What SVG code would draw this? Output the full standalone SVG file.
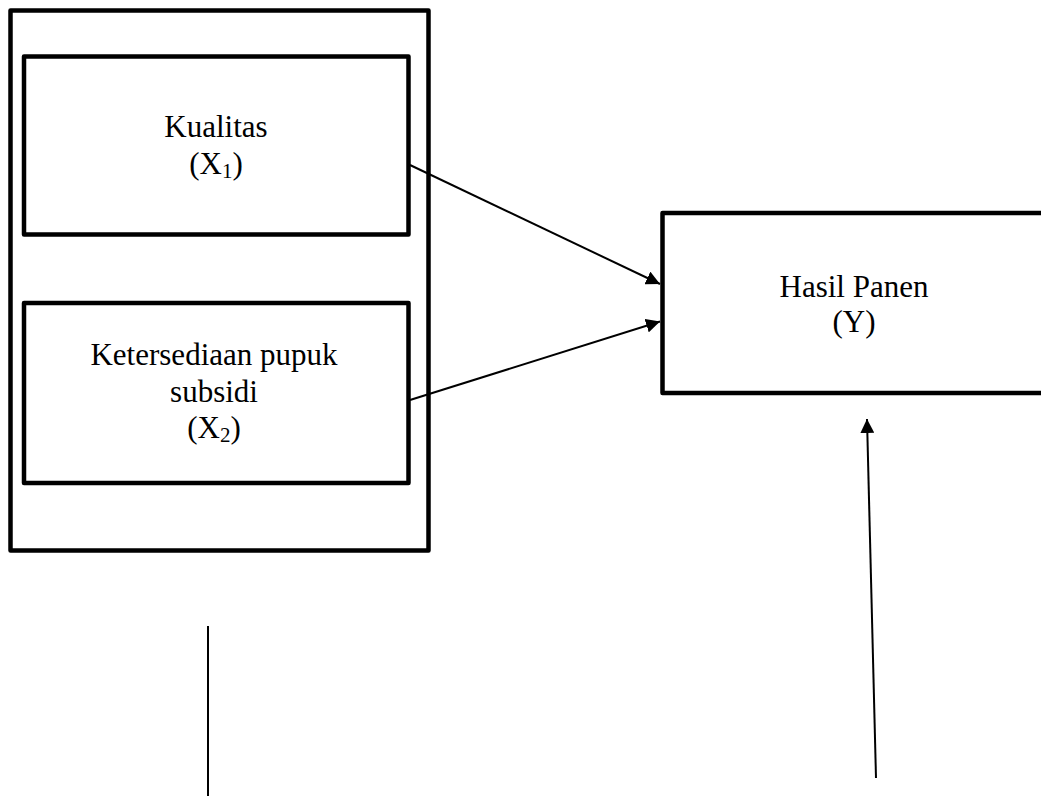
<svg xmlns="http://www.w3.org/2000/svg" width="1041" height="796" viewBox="0 0 1041 796">
<style>
.box{fill:none;stroke:#000;stroke-width:4.5;stroke-linejoin:round}
.lbl{font-family:"Liberation Serif","Times New Roman",serif;font-size:31px;fill:#000;text-anchor:middle}
.sub{font-size:21px}
.con{stroke:#000;stroke-width:2;fill:none}
</style>
<defs>
<marker id="arr" viewBox="0 0 10 10" refX="10" refY="5" markerWidth="7" markerHeight="7" orient="auto" markerUnits="strokeWidth">
<path d="M0,0 L10,5 L0,10 z" fill="#000"/>
</marker>
</defs>
<rect width="1041" height="796" fill="#fff"/>
<g id="outer"><rect class="box" x="10.5" y="10.5" width="418" height="540"/></g>
<g id="x1">
<rect class="box" x="24" y="56.5" width="384.5" height="178"/>
<text class="lbl" x="216" y="137">Kualitas</text>
<text class="lbl" x="216" y="174">(X<tspan class="sub" dy="4">1</tspan><tspan dy="-4">)</tspan></text>
</g>
<g id="x2">
<rect class="box" x="24" y="303" width="384.5" height="180"/>
<text class="lbl" x="214" y="365">Ketersediaan pupuk</text>
<text class="lbl" x="214" y="401.5">subsidi</text>
<text class="lbl" x="214" y="438">(X<tspan class="sub" dy="4">2</tspan><tspan dy="-4">)</tspan></text>
</g>
<g id="y">
<rect class="box" x="662.5" y="213" width="400" height="180"/>
<text class="lbl" x="854" y="297">Hasil Panen</text>
<text class="lbl" x="854" y="332">(Y)</text>
</g>
<g id="connectors">
<line class="con" x1="410" y1="165" x2="660" y2="284" marker-end="url(#arr)"/>
<line class="con" x1="410" y1="400" x2="660" y2="321.5" marker-end="url(#arr)"/>
<line class="con" x1="876" y1="778" x2="867" y2="419" marker-end="url(#arr)"/>
<line class="con" x1="208" y1="626" x2="208" y2="796"/>
</g>
</svg>
